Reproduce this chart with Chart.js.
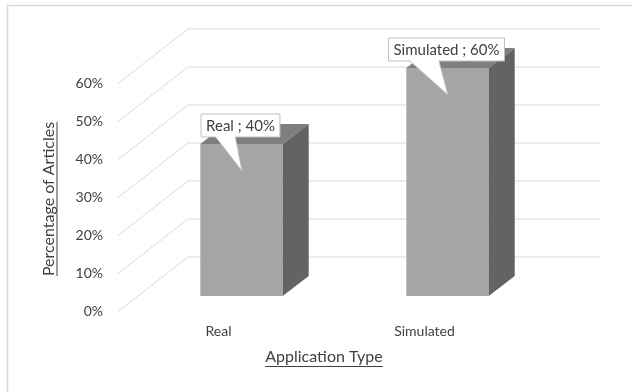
<!DOCTYPE html>
<html>
<head>
<meta charset="utf-8">
<script src="https://cdn.jsdelivr.net/npm/chart.js@4.4.1/dist/chart.umd.min.js"></script>
<style>
  html, body { margin: 0; padding: 0; background: #fff; }
  #wrap { width: 632px; height: 392px; position: relative; }
</style>
</head>
<body>
<div id="wrap"><canvas id="c" width="632" height="392"></canvas></div>
<script>
// Share of articles by application type (percent)
const categories = ['Real', 'Simulated'];
const shares = [40, 60];
const yTickValues = [0, 10, 20, 30, 40, 50, 60];
const yAxisTitle = 'Percentage of Articles';
const xAxisTitle = 'Application Type';

const FONT = 'Lato, "Open Sans", sans-serif';
const TEXT = '#404040';
const GRID = '#d9d9d9';
// Perspective offsets measured from the plane of the bar fronts
const WALL_FRONT = { dx: -20.5, dy: 15.5 };
const WALL_BACK = { dx: 49.5, dy: -39 };
const BAR_DEPTH = { dx: 26, dy: -20 };

const wallsPlugin = {
  id: 'walls',
  beforeDraw(chart) {
    const ctx = chart.ctx;
    ctx.save();
    ctx.strokeStyle = '#d9d9d9';
    ctx.lineWidth = 1.5;
    ctx.beginPath();
    ctx.moveTo(7.5, 392);
    ctx.lineTo(7.5, 5.5);
    ctx.lineTo(632, 5.5);
    ctx.stroke();
    ctx.restore();
  },
  beforeDatasetsDraw(chart) {
    const ctx = chart.ctx;
    const xs = chart.scales.x, ys = chart.scales.y;
    ctx.save();
    ctx.strokeStyle = GRID;
    ctx.lineWidth = 1;
    yTickValues.forEach(v => {
      const py = ys.getPixelForValue(v);
      ctx.beginPath();
      ctx.moveTo(xs.left + WALL_FRONT.dx, py + WALL_FRONT.dy);
      ctx.lineTo(xs.left + WALL_BACK.dx, py + WALL_BACK.dy);
      ctx.lineTo(xs.right + WALL_BACK.dx, py + WALL_BACK.dy);
      ctx.stroke();
    });
    ctx.restore();
  },
  afterDatasetsDraw(chart) {
    const ctx = chart.ctx;
    const meta = chart.getDatasetMeta(0);
    ctx.save();
    meta.data.forEach(bar => {
      const p = bar.getProps(['x', 'y', 'base', 'width'], true);
      const l = p.x - p.width / 2, r = p.x + p.width / 2;
      // top face
      ctx.fillStyle = '#7f7f7f';
      ctx.beginPath();
      ctx.moveTo(l, p.y);
      ctx.lineTo(r, p.y);
      ctx.lineTo(r + BAR_DEPTH.dx, p.y + BAR_DEPTH.dy);
      ctx.lineTo(l + BAR_DEPTH.dx, p.y + BAR_DEPTH.dy);
      ctx.closePath();
      ctx.fill();
      // side face
      ctx.fillStyle = '#636363';
      ctx.beginPath();
      ctx.moveTo(r, p.y);
      ctx.lineTo(r + BAR_DEPTH.dx, p.y + BAR_DEPTH.dy);
      ctx.lineTo(r + BAR_DEPTH.dx, p.base + BAR_DEPTH.dy);
      ctx.lineTo(r, p.base);
      ctx.closePath();
      ctx.fill();
    });
    ctx.restore();
  },
  afterDraw(chart) {
    const ctx = chart.ctx;
    const meta = chart.getDatasetMeta(0);
    ctx.save();
    // callout labels
    ctx.font = '15px ' + FONT;
    ctx.textAlign = 'center';
    ctx.textBaseline = 'middle';
    meta.data.forEach((bar, i) => {
      const text = categories[i] + ' ; ' + shares[i] + '%';
      const w = ctx.measureText(text).width + 10;
      const h = 23;
      const bx = bar.x - 1 - w / 2;
      const by = bar.y - 30;
      const pl = bx + 0.185 * w, pr = bx + 0.435 * w;
      const tipX = bar.x + 0.5, tipY = bar.y + 27;
      ctx.beginPath();
      ctx.moveTo(bx, by);
      ctx.lineTo(bx + w, by);
      ctx.lineTo(bx + w, by + h);
      ctx.lineTo(pr, by + h);
      ctx.lineTo(tipX, tipY);
      ctx.lineTo(pl, by + h);
      ctx.lineTo(bx, by + h);
      ctx.closePath();
      ctx.fillStyle = '#ffffff';
      ctx.fill();
      ctx.strokeStyle = '#bfbfbf';
      ctx.lineWidth = 1;
      ctx.stroke();
      ctx.fillStyle = TEXT;
      ctx.fillText(text, bx + w / 2, by + h / 2 + 0.5);
    });
    // axis titles, underlined
    ctx.fillStyle = TEXT;
    ctx.strokeStyle = TEXT;
    ctx.lineWidth = 1;
    ctx.font = '16px ' + FONT;
    let tw = ctx.measureText(xAxisTitle).width;
    const xtX = 324, xtY = 357;
    ctx.fillText(xAxisTitle, xtX, xtY);
    ctx.beginPath();
    ctx.moveTo(xtX - tw / 2, xtY + 9.5);
    ctx.lineTo(xtX + tw / 2, xtY + 9.5);
    ctx.stroke();

    ctx.translate(48.5, 199);
    ctx.rotate(-Math.PI / 2);
    tw = ctx.measureText(yAxisTitle).width;
    ctx.fillText(yAxisTitle, 0, 0);
    ctx.beginPath();
    ctx.moveTo(-tw / 2, 8.5);
    ctx.lineTo(tw / 2, 8.5);
    ctx.stroke();
    ctx.restore();
  }
};

new Chart(document.getElementById('c'), {
  type: 'bar',
  data: {
    labels: categories,
    datasets: [{
      data: shares,
      backgroundColor: '#a5a5a5',
      borderWidth: 0,
      barPercentage: 0.4,
      categoryPercentage: 1
    }]
  },
  options: {
    responsive: false,
    animation: false,
    devicePixelRatio: 1,
    layout: { padding: { top: 68, right: 81.5, bottom: 0, left: 0 } },
    plugins: { legend: { display: false }, tooltip: { enabled: false } },
    scales: {
      x: {
        grid: { display: false, drawTicks: false },
        border: { display: false },
        ticks: { color: TEXT, font: { family: FONT, size: 14 }, padding: 27, labelOffset: -23 },
        afterFit(scale) { scale.height = 96; }
      },
      y: {
        min: 0,
        max: 60,
        grid: { display: false, drawTicks: false },
        border: { display: false },
        ticks: {
          stepSize: 10,
          color: TEXT,
          font: { family: FONT, size: 14 },
          padding: 35.5,
          labelOffset: 15,
          callback: v => v + '%'
        },
        afterFit(scale) { scale.width = 138.5; }
      }
    }
  },
  plugins: [wallsPlugin]
});
</script>
</body>
</html>
